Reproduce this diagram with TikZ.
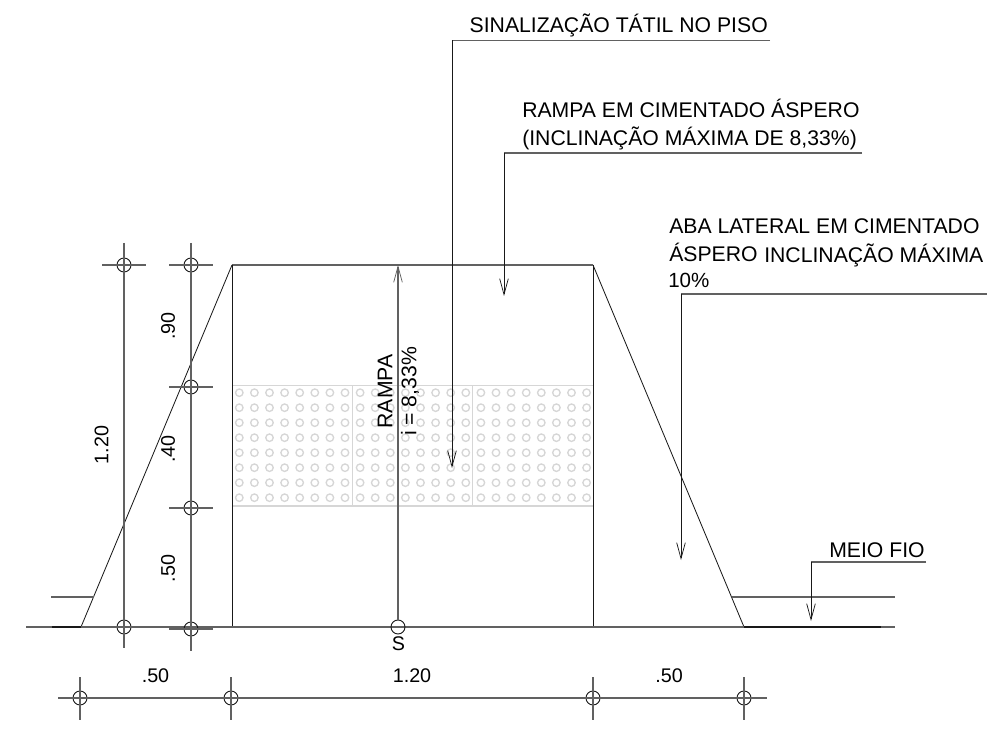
\documentclass[tikz,border=0pt]{standalone}
\usepackage{fontspec}
\setmainfont{Liberation Sans}
\usetikzlibrary{arrows.meta}
\definecolor{linedk}{gray}{0.1}
\definecolor{linegy}{gray}{0.38}
\definecolor{tact}{gray}{0.84}
\tikzset{
 x=0.75pt,y=-0.75pt,
 obj/.style={draw=linedk,line width=0.62pt},
 dimln/.style={draw=linegy,line width=0.8pt},
 lead/.style={draw=linedk,line width=0.62pt,-{Straight Barb[length=12pt,width=6.5pt,line width=0.55pt]}},
 leadline/.style={draw=linegy,line width=0.95pt},
 ring/.style={circle,draw=linedk,line width=0.7pt,minimum size=10.5pt,inner sep=0pt,fill=none},
 lbl/.style={font=\fontsize{15.9pt}{18pt}\selectfont,text=black,inner sep=0pt,align=left},
 dlbl/.style={font=\fontsize{14.8pt}{17pt}\selectfont,text=black,inner sep=0pt},
 tdot/.style={circle,draw=tact,line width=1pt,minimum size=5.6pt,inner sep=0pt},
 tline/.style={draw=tact,line width=0.8pt},
}
\begin{document}
\begin{tikzpicture}
\useasboundingbox[fill=white] (0,0) rectangle (987,730);
% tactile strip
\foreach \c in {0,...,23}{\foreach \r in {0,...,7}{
  \node[tdot] (d\c-\r) at ({239.3+15.1*\c},{392.7+15*\r}) {};}}
\coordinate (tA) at (232,385.5);\coordinate (tB) at (593,385.5);
\coordinate (tC) at (232,506);\coordinate (tD) at (593,506);
\draw[tline] (tA)--(tB) (tC)--(tD);
\draw[tline] (352.5,385.5)--(352.5,506) (472.5,385.5)--(472.5,506);
% ramp outline
\coordinate (bl) at (81,627);\coordinate (tl) at (232,265);\coordinate (tr) at (593,265);\coordinate (br) at (744,627);
\coordinate (il) at (232,627);\coordinate (ir) at (593,627);
\draw[obj] (bl)--(tl) (tr)--(br);
\draw[leadline] (tl)--(tr);
\draw[obj] (tl)--(il) (tr)--(ir);
% ground and curb
\coordinate (g1) at (26,627);\coordinate (g2) at (52,627);\coordinate (g3) at (881,627);\coordinate (g4) at (895,627);
\draw[dimln] (g1)--(g4);
\draw[draw=linedk,line width=1pt] (g2)--(bl) (br)--(g3);
\coordinate (cl0) at (51,597);\coordinate (cl1) at (93.5,597);\coordinate (cr0) at (732,597);\coordinate (cr1) at (895,597);
\draw[dimln] (cl0)--(cl1) (cr0)--(cr1);
% left dimension A
\foreach \n/\y in {a1/265,a2/627}{
  \node[ring] (\n) at (124,\y) {};
  \draw[dimln] (102,\y)--(146,\y);
}
\draw[dimln] (124,243)--(124,648);
% left dimension B
\foreach \n/\y in {b1/265,b2/387,b3/508,b4/629}{
  \node[ring] (\n) at (191,\y) {};
  \draw[dimln] (169,\y)--(213,\y);
}
\draw[dimln] (191,243)--(191,651);
% bottom dimension
\foreach \n/\x in {c1/80,c2/231,c3/593,c4/744}{
  \node[ring] (\n) at (\x,698) {};
  \draw[dimln] (\x,677)--(\x,720);
}
\draw[dimln] (58,698)--(767,698);
% centre arrow
\node[ring] (s) at (398,627) {};
\coordinate (st) at (398,265);
\draw[lead,draw=linegy,line width=0.8pt] (s)--(st);
% leaders
\coordinate (l1a) at (770,40.5);\coordinate (l1b) at (452,40.5);\coordinate (l1c) at (452,468);
\draw[leadline] (l1a)--(l1b);\draw[lead] (l1b)--(l1c);
\coordinate (l2a) at (862,153);\coordinate (l2b) at (504,153);\coordinate (l2c) at (504,296);
\draw[leadline] (l2a)--(l2b);\draw[lead] (l2b)--(l2c);
\coordinate (l3a) at (987,294);\coordinate (l3b) at (681,294);\coordinate (l3c) at (681,560);
\draw[leadline] (l3a)--(l3b);\draw[lead] (l3b)--(l3c);
\coordinate (l4a) at (926,562);\coordinate (l4b) at (811,562);\coordinate (l4c) at (811,621);
\draw[leadline] (l4a)--(l4b);\draw[lead] (l4b)--(l4c);
% labels
\node[lbl,anchor=east] (t1) at (768,25) {SINALIZAÇÃO TÁTIL NO PISO};
\node[lbl,anchor=west] (t2) at (522,108) {RAMPA EM CIMENTADO ÁSPERO};
\node[lbl,anchor=west] (t3) at (522,138) {(INCLINAÇÃO MÁXIMA DE 8,33\%)};
\node[lbl,anchor=west] (t4) at (669,226) {ABA LATERAL EM CIMENTADO};
\node[lbl,anchor=west] (t5) at (669,252) {ÁSPERO};
\node[lbl,anchor=west] (t6) at (764,255) {INCLINAÇÃO MÁXIMA};
\node[lbl,anchor=west,font=\fontsize{15.4pt}{17pt}\selectfont] (t7) at (668,280) {10\%};
\node[lbl,anchor=west] (t8) at (829,550) {MEIO FIO};
\node[lbl,rotate=90] (r1) at (385,391.5) {RAMPA};
\node[lbl,rotate=90] (r2) at (410,391.5) {i = 8,33\%};
\node[dlbl] (sl) at (398.5,644) {S};
\node[dlbl,rotate=90] (d1) at (101.5,445) {1.20};
\node[dlbl,rotate=90] (d2) at (168,326) {.90};
\node[dlbl,rotate=90] (d3) at (168,449) {.40};
\node[dlbl,rotate=90] (d4) at (168,568.5) {.50};
\node[dlbl] (d5) at (155.5,676) {.50};
\node[dlbl] (d6) at (412,676) {1.20};
\node[dlbl] (d7) at (669,676) {.50};
\end{tikzpicture}
\end{document}
